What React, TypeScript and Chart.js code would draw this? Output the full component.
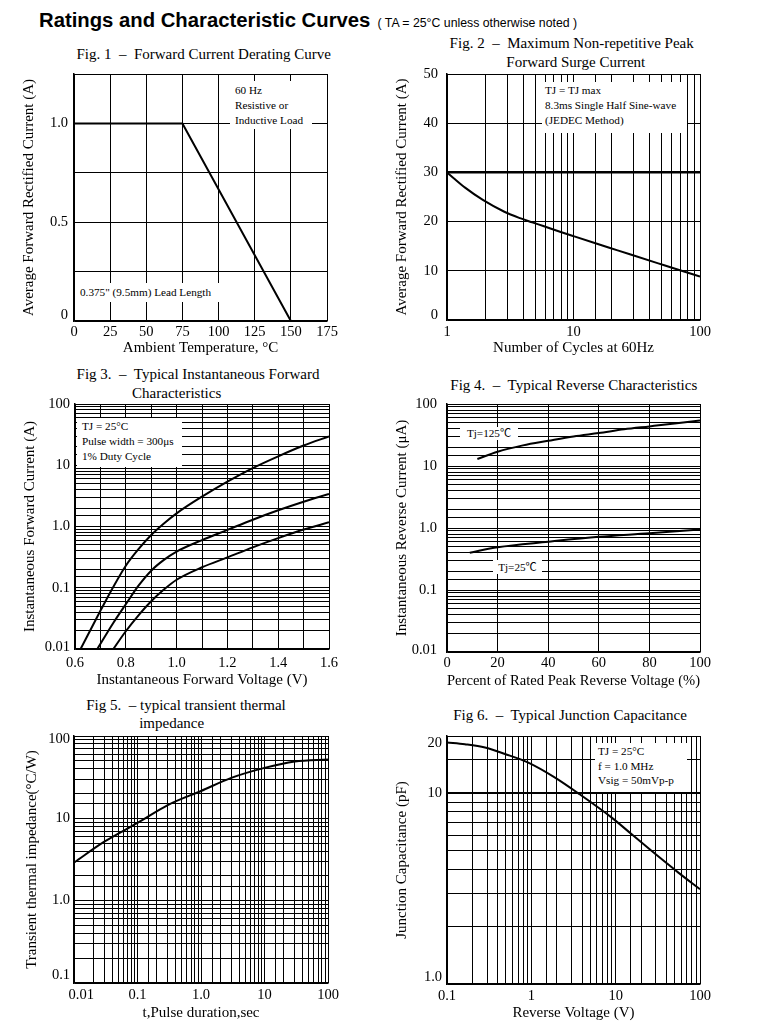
import React, { useEffect, useRef } from "react";
import { Chart, registerables } from "chart.js";
Chart.register(...registerables);

const SERIF = '"Liberation Serif", "Times New Roman", "Noto Sans CJK SC", serif';
const SANS = '"Liberation Sans", Arial, sans-serif';

// ---------------- Fig 1: forward current derating ----------------
const fig1Temperature = [0, 75, 150];
const fig1Current = [1.0, 1.0, 0];
const fig1XTicks = [0, 25, 50, 75, 100, 125, 150, 175];
const fig1XLabels = ["0", "25", "50", "75", "100", "125", "150", "175"];
const fig1YTicks = [0, 0.5, 1.0];
const fig1YLabels = ["0", "0.5", "1.0"];

// ---------------- Fig 2: surge current ----------------
const fig2Cycles = [1, 1.156, 1.39, 1.92, 2.84, 3.78, 4.72, 5.77, 7.82, 10, 19.2, 28.3, 46.8, 67.4, 100];
const fig2Current = [30, 28.6, 26.9, 24.4, 22.0, 20.7, 19.85, 19.1, 17.95, 17.05, 14.7, 13.3, 11.5, 10.2, 8.85];
const fig2XTicks = [1, 10, 100];
const fig2XLabels = ["1", "10", "100"];
const fig2YTicks = [0, 10, 20, 30, 40, 50];
const fig2YLabels = ["0", "10", "20", "30", "40", "50"];

// ---------------- Fig 3: forward characteristics ----------------
const fig3VoltageA = [0.622, 0.7, 0.75, 0.8, 0.85, 0.9, 0.95, 1.0, 1.1, 1.2, 1.3, 1.4, 1.5, 1.6];
const fig3CurrentA = [0.01, 0.042, 0.102, 0.229, 0.427, 0.726, 1.12, 1.64, 3.07, 5.4, 9.0, 14, 21, 29.6];
const fig3VoltageB = [0.688, 0.75, 0.8, 0.85, 0.9, 0.95, 1.0, 1.1, 1.2, 1.3, 1.4, 1.5, 1.6];
const fig3CurrentB = [0.01, 0.0263, 0.0537, 0.108, 0.19, 0.285, 0.39, 0.6, 0.88, 1.29, 1.84, 2.54, 3.4];
const fig3VoltageC = [0.751, 0.8, 0.85, 0.9, 0.95, 1.0, 1.1, 1.2, 1.3, 1.4, 1.5, 1.6];
const fig3CurrentC = [0.01, 0.0195, 0.0355, 0.0603, 0.0933, 0.135, 0.216, 0.313, 0.457, 0.646, 0.891, 1.17];
const fig3XTicks = [0.6, 0.8, 1.0, 1.2, 1.4, 1.6];
const fig3XLabels = ["0.6", "0.8", "1.0", "1.2", "1.4", "1.6"];
const fig3YTicks = [0.01, 0.1, 1, 10, 100];
const fig3YLabels = ["0.01", "0.1", "1.0", "10", "100"];

// ---------------- Fig 4: reverse characteristics ----------------
const fig4Percent125 = [12, 20, 30, 40, 50, 60, 70, 80, 90, 100];
const fig4Current125 = [13, 17, 21.5, 25.5, 30, 34, 39, 43.5, 48.5, 54];
const fig4Percent25 = [9, 20, 40, 60, 80, 100];
const fig4Current25 = [0.4, 0.49, 0.6, 0.72, 0.82, 0.95];
const fig4XTicks = [0, 20, 40, 60, 80, 100];
const fig4XLabels = ["0", "20", "40", "60", "80", "100"];
const fig4YTicks = [0.01, 0.1, 1, 10, 100];
const fig4YLabels = ["0.01", "0.1", "1.0", "10", "100"];

// ---------------- Fig 5: transient thermal impedance ----------------
const fig5Duration = [0.01, 0.03, 0.1, 0.3, 1, 3, 10, 30, 100];
const fig5Impedance = [2.9, 5.2, 8.8, 14.5, 21.5, 31, 41, 49, 52];
const fig5XTicks = [0.01, 0.1, 1, 10, 100];
const fig5XLabels = ["    0.01", "0.1", "1.0", "10", "100"];
const fig5YTicks = [0.1, 1, 10, 100];
const fig5YLabels = ["0.1", "1.0", "10", "100"];

// ---------------- Fig 6: junction capacitance ----------------
const fig6Voltage = [0.1, 0.163, 0.282, 0.487, 0.92, 1.91, 3.61, 8.98, 15.5, 26.8, 55.4, 100];
const fig6Capacitance = [18.5, 18.1, 17.4, 16.1, 14.5, 12.1, 10, 7.46, 6.1, 4.98, 3.84, 3.14];
const fig6XTicks = [0.1, 1, 10, 100];
const fig6XLabels = ["0.1", "1", "10", "100"];
const fig6YTicks = [1, 10, 20];
const fig6YLabels = ["1.0", "10", "20"];

// ---------------- helpers ----------------
const TICK_FONT = 14.5;
const AX_FONT = 15;
const AX_LH = AX_FONT * 1.2;
const PAD_TOP = 30;

const pts = (xs: number[], ys: number[]) => xs.map((x, i) => ({ x, y: ys[i] }));

const findIdx = (values: number[], v: any) => {
  const n = Number(v);
  return values.findIndex((t) => Math.abs(t - n) <= 1e-6 + Math.abs(t) * 1e-4);
};

// shifts: vertical nudge (px, + = down) of a y tick label, keyed by tick index in values
const labeler = (values: number[], labels: string[], shifts?: number[]) => (v: any) => {
  const i = findIdx(values, v);
  if (i < 0) return "";
  const s = shifts ? shifts[i] || 0 : 0;
  if (s < 0) return [labels[i], ""];
  if (s > 0) return ["", labels[i]];
  return labels[i];
};

const tickFontFor = (values: number[], shifts?: number[]) => (ctx: any) => {
  const base = { family: SERIF, size: TICK_FONT, lineHeight: 1.2 };
  if (!shifts || !ctx.tick) return base;
  const i = findIdx(values, ctx.tick.value);
  const s = i >= 0 ? shifts[i] || 0 : 0;
  if (!s) return base;
  return { family: SERIF, size: TICK_FONT, lineHeight: 2 * Math.abs(s) + "px" };
};

const curve = (data: { x: number; y: number }[], smooth = true) => ({
  data,
  borderColor: "#000",
  borderWidth: 2,
  pointRadius: 0,
  fill: false,
  tension: 0,
  cubicInterpolationMode: smooth ? "monotone" : "default",
});

type Plot = { L: number; T: number; R: number; B: number };
type Spec = {
  left: number;
  width: number;
  plot: Plot;
  yTitleX: number;
  xTitleY: number;
  xTitle: string;
  yTitle: string;
  xPad: number;
  yPad: number;
  x: any;
  y: any;
  xStep?: number;
  yStep?: number;
  xTicks: number[];
  xLabels: string[];
  yTicks: number[];
  yLabels: string[];
  yShifts?: number[];
  yGrid?: any;
  datasets: any[];
};

function geometry(s: Spec) {
  const top = s.plot.T - PAD_TOP;
  const height = Math.round(s.xTitleY + AX_LH / 2 - top);
  const padLeft = s.yTitleX - AX_LH / 2 - s.left;
  const padRight = s.left + s.width - s.plot.R;
  const yW = s.plot.L - s.left - padLeft;
  const xH = top + height - s.plot.B;
  return { top, height, padLeft, padRight, padTop: PAD_TOP, yW, xH };
}

function FigChart({ spec }: { spec: Spec }) {
  const ref = useRef<HTMLCanvasElement | null>(null);
  const g = geometry(spec);
  useEffect(() => {
    if (!ref.current) return;
    const tickFont = { family: SERIF, size: TICK_FONT };
    const titleFont = { family: SERIF, size: AX_FONT, lineHeight: 1.2 };
    const chart = new Chart(ref.current, {
      type: "line",
      data: { datasets: spec.datasets },
      options: {
        animation: false,
        responsive: false,
        devicePixelRatio: 1,
        layout: { padding: { left: g.padLeft, top: g.padTop, right: g.padRight, bottom: 0 } },
        plugins: { legend: { display: false }, tooltip: { enabled: false }, title: { display: false } },
        scales: {
          x: {
            ...spec.x,
            position: "bottom",
            afterFit: (sc: any) => {
              sc.height = g.xH;
            },
            grid: { color: "#000", lineWidth: 1, drawTicks: false },
            border: { display: true, color: "#000", width: 1.5 },
            ticks: {
              autoSkip: false,
              maxRotation: 0,
              minRotation: 0,
              padding: spec.xPad,
              color: "#000",
              font: tickFont,
              callback: labeler(spec.xTicks, spec.xLabels),
              ...(spec.xStep ? { stepSize: spec.xStep } : {}),
            },
            title: { display: true, text: spec.xTitle, color: "#000", font: titleFont, padding: 0 },
          },
          y: {
            ...spec.y,
            position: "left",
            afterFit: (sc: any) => {
              sc.width = g.yW;
            },
            grid: { color: "#000", lineWidth: 1, drawTicks: false, ...(spec.yGrid || {}) },
            border: { display: true, color: "#000", width: 1.5 },
            ticks: {
              autoSkip: false,
              padding: spec.yPad,
              color: "#000",
              font: tickFontFor(spec.yTicks, spec.yShifts),
              callback: labeler(spec.yTicks, spec.yLabels, spec.yShifts),
              ...(spec.yStep ? { stepSize: spec.yStep } : {}),
            },
            title: { display: true, text: spec.yTitle, color: "#000", font: titleFont, padding: 0 },
          },
        },
      } as any,
    });
    return () => chart.destroy();
  }, []);
  return (
    <canvas
      ref={ref}
      width={spec.width}
      height={g.height}
      style={{ position: "absolute", left: spec.left, top: g.top, width: spec.width, height: g.height }}
    />
  );
}

const specs: Spec[] = [
  {
    left: 0,
    width: 385,
    plot: { L: 74, T: 74, R: 327, B: 321 },
    yTitleX: 29,
    xTitleY: 348,
    xTitle: "Ambient Temperature, °C",
    yTitle: "Average Forward Rectified Current (A)",
    xPad: 2.3,
    yPad: 6,
    x: { type: "linear", min: 0, max: 175 },
    y: { type: "linear", min: 0, max: 1.25 },
    xStep: 25,
    yStep: 0.25,
    xTicks: fig1XTicks,
    xLabels: fig1XLabels,
    yTicks: fig1YTicks,
    yLabels: fig1YLabels,
    yShifts: [-6, 0, 0],
    datasets: [curve(pts(fig1Temperature, fig1Current), false)],
  },
  {
    left: 385,
    width: 390,
    plot: { L: 447, T: 74, R: 700, B: 320 },
    yTitleX: 402,
    xTitleY: 348,
    xTitle: "Number of Cycles at 60Hz",
    yTitle: "Average Forward Rectified Current (A)",
    xPad: 3.3,
    yPad: 9,
    x: { type: "logarithmic", min: 1, max: 100 },
    y: { type: "linear", min: 0, max: 50 },
    yStep: 10,
    xTicks: fig2XTicks,
    xLabels: fig2XLabels,
    yTicks: fig2YTicks,
    yLabels: fig2YLabels,
    yShifts: [-5, 0, 0, 0, 0, 0],
    yGrid: { lineWidth: (c: any) => (c.tick && c.tick.value === 30 ? 2.5 : 1) },
    datasets: [curve(pts(fig2Cycles, fig2Current))],
  },
  {
    left: 0,
    width: 385,
    plot: { L: 75, T: 404, R: 329, B: 649 },
    yTitleX: 30,
    xTitleY: 680,
    xTitle: "Instantaneous Forward Voltage (V)",
    yTitle: "Instantaneous Forward Current (A)",
    xPad: 5.3,
    yPad: 5,
    x: { type: "linear", min: 0.6, max: 1.6 },
    y: { type: "logarithmic", min: 0.01, max: 100 },
    xStep: 0.1,
    xTicks: fig3XTicks,
    xLabels: fig3XLabels,
    yTicks: fig3YTicks,
    yLabels: fig3YLabels,
    yShifts: [-2, 0, 0, 0, 0],
    datasets: [
      curve(pts(fig3VoltageA, fig3CurrentA)),
      curve(pts(fig3VoltageB, fig3CurrentB)),
      curve(pts(fig3VoltageC, fig3CurrentC)),
    ],
  },
  {
    left: 385,
    width: 390,
    plot: { L: 447, T: 404, R: 700, B: 652 },
    yTitleX: 402,
    xTitleY: 681,
    xTitle: "Percent of Rated Peak Reverse Voltage (%)",
    yTitle: "Instantaneous Reverse Current (μA)",
    xPad: 2.3,
    yPad: 10,
    x: { type: "linear", min: 0, max: 100 },
    y: { type: "logarithmic", min: 0.01, max: 100 },
    xStep: 20,
    xTicks: fig4XTicks,
    xLabels: fig4XLabels,
    yTicks: fig4YTicks,
    yLabels: fig4YLabels,
    yShifts: [-2, 0, 0, 0, 0],
    datasets: [curve(pts(fig4Percent125, fig4Current125)), curve(pts(fig4Percent25, fig4Current25))],
  },
  {
    left: 0,
    width: 385,
    plot: { L: 74, T: 736, R: 328, B: 983 },
    yTitleX: 31.7,
    xTitleY: 1013,
    xTitle: "t,Pulse duration,sec",
    yTitle: "Transient thermal impedance(°C/W)",
    xPad: 3.3,
    yPad: 4,
    x: { type: "logarithmic", min: 0.01, max: 100 },
    y: { type: "logarithmic", min: 0.1, max: 100 },
    xTicks: fig5XTicks,
    xLabels: fig5XLabels,
    yTicks: fig5YTicks,
    yLabels: fig5YLabels,
    yShifts: [-8, 0, 0, 3],
    datasets: [curve(pts(fig5Duration, fig5Impedance))],
  },
  {
    left: 385,
    width: 390,
    plot: { L: 447, T: 736, R: 700, B: 984 },
    yTitleX: 402,
    xTitleY: 1013,
    xTitle: "Reverse Voltage (V)",
    yTitle: "Junction Capacitance (pF)",
    xPad: 3.3,
    yPad: 5,
    x: { type: "logarithmic", min: 0.1, max: 100 },
    y: { type: "logarithmic", min: 1, max: 20 },
    xTicks: fig6XTicks,
    xLabels: fig6XLabels,
    yTicks: fig6YTicks,
    yLabels: fig6YLabels,
    yShifts: [-7, 0, 7],
    yGrid: { lineWidth: (c: any) => (c.tick && Math.abs(c.tick.value - 10) < 1e-6 ? 2 : 1) },
    datasets: [curve(pts(fig6Voltage, fig6Capacitance))],
  },
];

type TextSpec = { text: string; x: number; y: number; size?: number; center?: boolean; family?: string; bold?: boolean };

const figTitles: TextSpec[] = [
  { text: "Fig. 1  –  Forward Current Derating Curve", x: 203.7, y: 53.5, center: true },
  { text: "Fig. 2  –  Maximum Non-repetitive Peak", x: 571.7, y: 42.5, center: true },
  { text: "Forward Surge Current", x: 575.8, y: 61.5, center: true },
  { text: "Fig 3.  –  Typical Instantaneous Forward", x: 198, y: 374.2, center: true },
  { text: "Characteristics", x: 176.7, y: 392.5, center: true },
  { text: "Fig 4.  –  Typical Reverse Characteristics", x: 573.8, y: 384.5, center: true },
  { text: "Fig 5.  – typical transient thermal", x: 186, y: 705.2, center: true },
  { text: "impedance", x: 171.7, y: 722.8, center: true },
  { text: "Fig 6.  –  Typical Junction Capacitance", x: 570, y: 715.2, center: true },
];

function Text({ t }: { t: TextSpec }) {
  const size = t.size ?? 15;
  const lh = Math.round(size * 1.3);
  return (
    <div
      style={{
        position: "absolute",
        left: t.x,
        top: t.y - lh / 2,
        lineHeight: lh + "px",
        fontSize: size,
        fontFamily: t.family ?? SERIF,
        fontWeight: t.bold ? 700 : 400,
        whiteSpace: "pre",
        transform: t.center ? "translateX(-50%)" : undefined,
        color: "#000",
      }}
    >
      {t.text}
    </div>
  );
}

type NoteSpec = { x: number; y: number; w: number; h: number; lines: string[]; padL: number; padT: number; lh: number; center?: boolean };

const notes: NoteSpec[] = [
  { x: 230, y: 81, w: 82, h: 48, lines: ["60 Hz", "Resistive or", "Inductive Load"], padL: 5, padT: 1.5, lh: 15 },
  { x: 76, y: 283, w: 144, h: 19, lines: ['0.375" (9.5mm) Lead Length'], padL: 4, padT: 1.5, lh: 15 },
  { x: 542, y: 82, w: 145, h: 51, lines: ["TJ = TJ max", "8.3ms Single Half Sine-wave", "(JEDEC Method)"], padL: 3, padT: 1.2, lh: 15 },
  { x: 77, y: 418, w: 105, h: 49, lines: ["TJ = 25°C", "Pulse width = 300μs", "1% Duty Cycle"], padL: 5, padT: 0.5, lh: 15 },
  { x: 460, y: 427, w: 58, h: 13, lines: ["Tj=125℃"], padL: 0, padT: 0, lh: 13, center: true },
  { x: 493, y: 560, w: 49, h: 14, lines: ["Tj=25℃"], padL: 0, padT: 0.5, lh: 13, center: true },
  { x: 595, y: 743, w: 92, h: 49, lines: ["TJ = 25°C", "f = 1.0 MHz", "Vsig = 50mVp-p"], padL: 3, padT: 1.4, lh: 14.5 },
];

function Note({ n }: { n: NoteSpec }) {
  return (
    <div
      style={{
        position: "absolute",
        left: n.x,
        top: n.y,
        width: n.w,
        height: n.h,
        background: "#fff",
        boxSizing: "border-box",
        paddingLeft: n.padL,
        paddingTop: n.padT,
        fontFamily: SERIF,
        fontSize: 11.2,
        lineHeight: n.lh + "px",
        whiteSpace: "pre",
        textAlign: n.center ? "center" : "left",
        color: "#000",
      }}
    >
      {n.lines.map((l, i) => (
        <div key={i}>{l}</div>
      ))}
    </div>
  );
}

export default function App() {
  return (
    <div style={{ position: "absolute", left: 0, top: 0, width: 775, height: 1033, background: "#fff", overflow: "hidden" }}>
      <Text t={{ text: "Ratings and Characteristic Curves", x: 39, y: 20.4, size: 20.3, family: SANS, bold: true }} />
      <Text t={{ text: "( TA = 25°C unless otherwise noted )", x: 377.5, y: 22.5, size: 12.3, family: SANS }} />
      {figTitles.map((t, i) => (
        <Text key={i} t={t} />
      ))}
      {specs.map((s, i) => (
        <FigChart key={i} spec={s} />
      ))}
      {notes.map((n, i) => (
        <Note key={i} n={n} />
      ))}
    </div>
  );
}
